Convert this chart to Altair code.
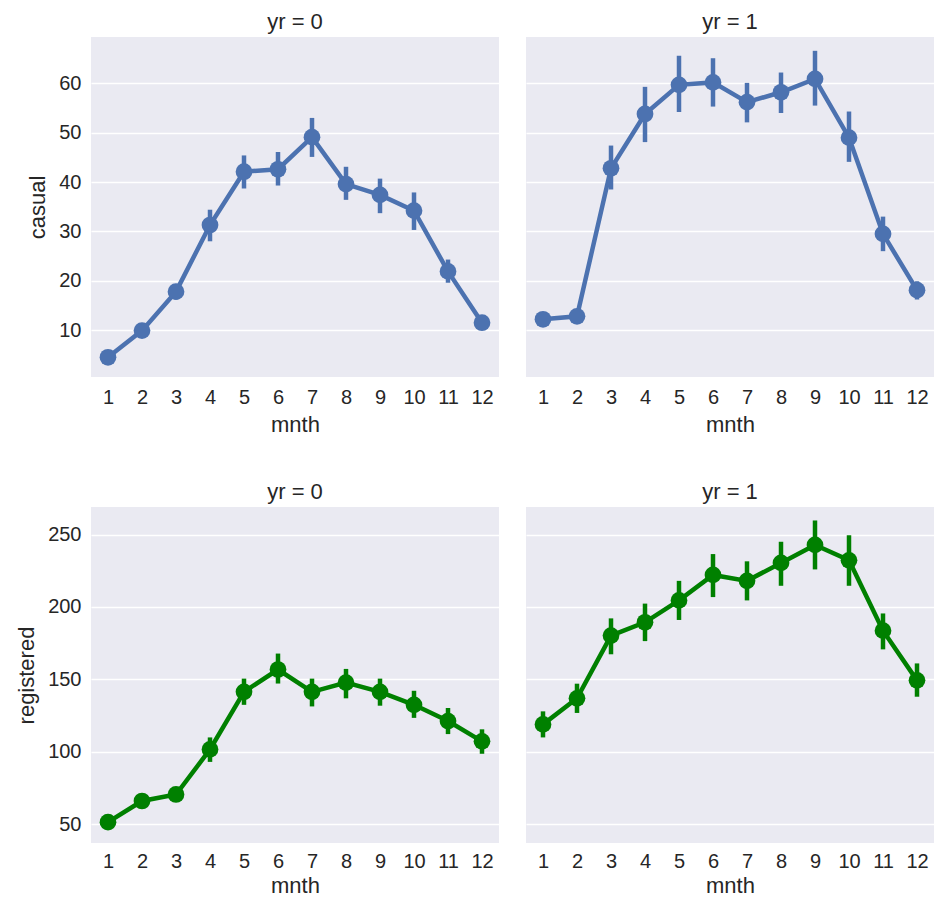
import altair as alt
import pandas as pd

months = list(range(1, 13))

casual_y0 = [4.5, 9.9, 17.8, 31.3, 42.1, 42.6, 49.1, 39.6, 37.4, 34.2, 21.9, 11.5]
casual_y0_lo = [3.5, 8.9, 16.2, 28.0, 38.7, 39.3, 45.1, 36.4, 33.7, 30.3, 19.6, 10.5]
casual_y0_hi = [5.5, 10.9, 19.3, 34.4, 45.4, 46.1, 53.0, 43.1, 40.7, 37.9, 24.3, 12.5]

casual_y1 = [12.2, 12.8, 42.8, 53.8, 59.7, 60.2, 56.2, 58.2, 60.9, 49.0, 29.5, 18.1]
casual_y1_lo = [11.2, 11.5, 38.5, 48.1, 54.2, 55.3, 52.1, 54.0, 55.5, 44.1, 26.0, 16.2]
casual_y1_hi = [13.2, 13.9, 47.4, 59.3, 65.6, 65.1, 60.1, 62.2, 66.6, 54.3, 33.0, 19.9]

registered_y0 = [51.4, 66.0, 70.5, 101.6, 141.4, 156.8, 141.4, 147.7, 141.4, 132.4, 121.2, 107.2]
registered_y0_lo = [48.0, 61.5, 66.0, 93.0, 132.4, 147.1, 131.3, 136.9, 131.8, 123.4, 112.2, 98.6]
registered_y0_hi = [54.7, 69.4, 75.0, 109.9, 150.5, 167.8, 150.5, 157.2, 150.5, 142.1, 130.2, 115.5]

registered_y1 = [118.9, 136.9, 180.2, 189.4, 204.5, 222.1, 218.0, 230.4, 242.8, 232.2, 183.6, 149.3]
registered_y1_lo = [109.9, 126.8, 167.3, 176.4, 191.0, 206.8, 204.5, 214.6, 225.9, 214.6, 170.7, 138.0]
registered_y1_hi = [127.9, 147.0, 192.1, 202.3, 218.0, 236.5, 231.5, 245.0, 259.7, 249.5, 195.5, 161.0]

casual_ticks = [10, 20, 30, 40, 50, 60]
registered_ticks = [50, 100, 150, 200, 250]

FONT = "Liberation Sans"
TXT = "#262626"
BLUE = "#4C72B0"
GREEN = "#008000"


def make_df(mean, lo, hi):
    return pd.DataFrame({"mnth": months, "value": mean, "lo": lo, "hi": hi})


def panel(df, title, ytitle, color, domain, ticks, width, height, show_labels,
          xlab_pad, xtitle_pad):
    x = alt.X(
        "mnth:O",
        scale=alt.Scale(type="point", padding=0.5),
        axis=alt.Axis(title="mnth", labelAngle=0, grid=False, ticks=False,
                      domain=False, labelPadding=xlab_pad, titlePadding=xtitle_pad),
    )
    if show_labels:
        yaxis = alt.Axis(title=ytitle, values=ticks, ticks=False, domain=False,
                         labelPadding=10, titlePadding=9, grid=True)
    else:
        yaxis = alt.Axis(title=None, values=ticks, ticks=False, domain=False,
                         labels=False, grid=True, minExtent=0)
    yscale = alt.Scale(domain=domain, nice=False, zero=False)
    base = alt.Chart(df)
    err = base.mark_rule(color=color, strokeWidth=4.5, strokeCap="butt").encode(
        x=x, y=alt.Y("lo:Q", scale=yscale, axis=yaxis), y2="hi:Q"
    )
    line = base.mark_line(color=color, strokeWidth=4.5).encode(
        x=x, y=alt.Y("value:Q", scale=yscale, axis=yaxis)
    )
    pts = base.mark_circle(color=color, size=280, opacity=1).encode(
        x=x, y=alt.Y("value:Q", scale=yscale, axis=yaxis)
    )
    return alt.layer(err, line, pts).properties(
        width=width, height=height,
        title=alt.TitleParams(title, fontSize=22, font=FONT, color=TXT,
                              fontWeight="normal", offset=3),
    )


W = 408
H1 = 340
H2 = 336
p1 = panel(make_df(casual_y0, casual_y0_lo, casual_y0_hi), "yr = 0", "casual", BLUE,
           [0.5, 69.4], casual_ticks, W, H1, True, 10, 7)
p2 = panel(make_df(casual_y1, casual_y1_lo, casual_y1_hi), "yr = 1", "casual", BLUE,
           [0.5, 69.4], casual_ticks, W, H1, False, 10, 7)
p3 = panel(make_df(registered_y0, registered_y0_lo, registered_y0_hi), "yr = 0", "registered",
           GREEN, [37, 269], registered_ticks, W, H2, True, 8, 4)
p4 = panel(make_df(registered_y1, registered_y1_lo, registered_y1_hi), "yr = 1", "registered",
           GREEN, [37, 269], registered_ticks, W, H2, False, 8, 4)

chart = alt.concat(
    p1, p2, p3, p4, columns=2,
    spacing=alt.RowColnumber(row=46, column=27),
).properties(
    padding={"left": 7, "top": 3, "right": 0, "bottom": 0}
).configure_view(
    fill="#EAEAF2", strokeWidth=0
).configure_axis(
    labelFont=FONT, titleFont=FONT, labelFontSize=20, titleFontSize=22,
    labelColor=TXT, titleColor=TXT, titleFontWeight="normal",
    gridColor="#FFFFFF", gridWidth=1.5,
)

chart.save("out.html", embed_options={"renderer": "svg", "actions": False})
